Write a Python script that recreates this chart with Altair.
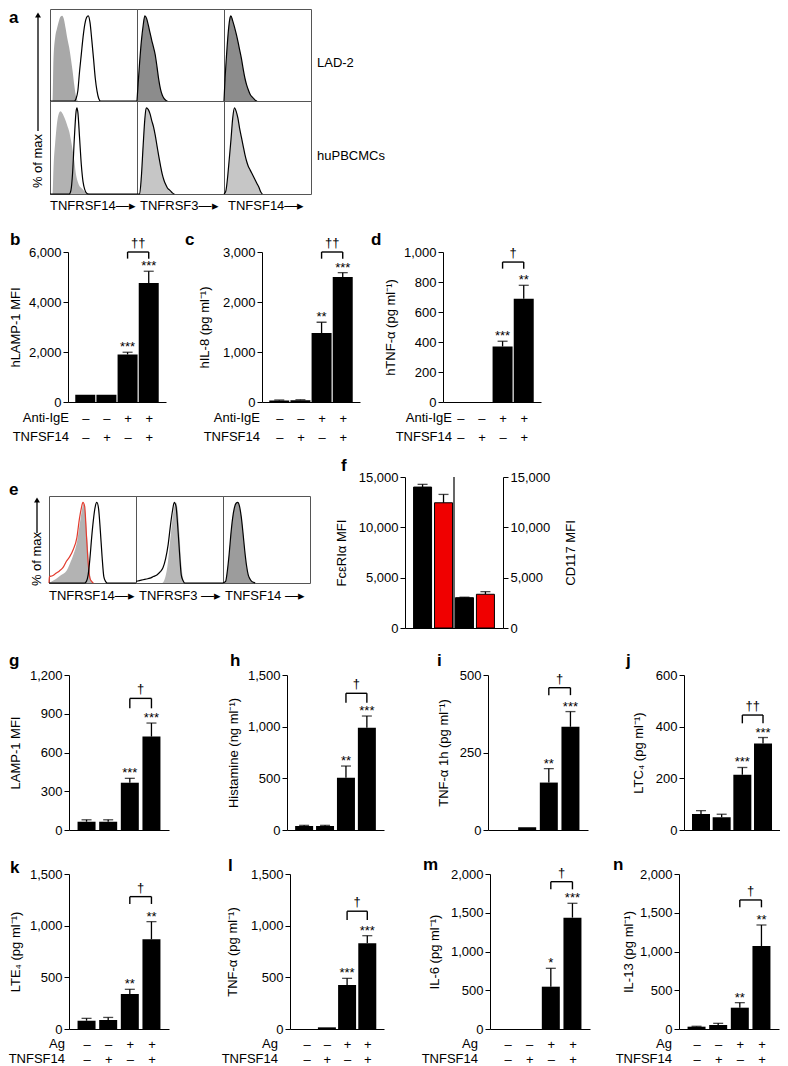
import altair as alt
import pandas as pd

FONT = "Liberation Sans"

# ---------------- condition rows (x-axis labels) ----------------
COND_TOP = ["–", "–", "+", "+"]
COND_BOT = ["–", "+", "–", "+"]

# ---------------- panel a: flow histograms (x: relative fluorescence 0-100, y: % of max) ----------------
a11_gray = ([0, 3, 4, 6, 8, 10, 12, 14, 16, 18, 20, 22, 24, 26, 28, 30, 32],
            [0, 0, 50, 75, 85, 93, 99, 100, 96, 85, 73, 63, 50, 35, 18, 5, 0])
a11_line = ([0, 28, 30, 32, 34, 36, 38, 40, 42, 44, 46, 48, 50, 52, 54, 56, 58, 100],
            [0, 0, 3, 12, 35, 55, 75, 90, 98, 100, 92, 72, 50, 27, 12, 3, 0, 0])
a12_gray = ([0, 1, 3, 5, 7, 9, 11, 13, 15, 17, 19, 21, 23, 25, 27, 29, 31, 33, 35],
            [0, 16, 45, 70, 88, 100, 97, 89, 80, 71, 63, 54, 40, 25, 14, 7, 3, 1, 0])
a13_gray = ([0, 1, 3, 5, 7, 8, 10, 12, 14, 16, 18, 20, 22, 24, 26, 28, 30, 32, 34, 36, 38],
            [0, 22, 55, 82, 98, 100, 94, 87, 79, 70, 60, 50, 38, 27, 19, 13, 8, 5, 3, 1, 0])
a21_gray = ([0, 3, 4, 6, 8, 10, 12, 14, 16, 18, 20, 22, 24, 26, 28, 30, 32, 34, 36, 38, 40, 42, 44, 46],
            [0, 0, 30, 60, 82, 93, 96, 94, 90, 85, 79, 73, 63, 51, 38, 22, 14, 9, 7, 5, 3, 2, 1, 0])
a21_line = ([0, 22, 24, 26, 28, 30, 31, 32, 34, 36, 38, 40, 42, 44, 100],
            [0, 0, 4, 25, 65, 96, 100, 95, 65, 34, 14, 5, 1, 0, 0])
a22_gray = ([0, 3, 5, 7, 9, 10.6, 13, 15, 17, 19, 21, 23, 25, 27, 29, 31, 33, 35, 37, 39, 41, 43],
            [0, 0, 20, 55, 87, 100, 98, 93, 85, 78, 68, 56, 44, 33, 23, 16, 11, 7, 5, 3, 1, 0])
a23_gray = ([0, 2, 4, 6, 8, 10, 12, 14, 16, 18, 20, 22, 24, 26, 28, 30, 32, 34, 36, 38, 40, 42, 44],
            [0, 3, 18, 40, 63, 88, 100, 96, 88, 76, 66, 56, 46, 38, 32, 28, 24, 20, 16, 12, 8, 3, 0])

# ---------------- panel e: flow histograms ----------------
e1_red = ([0, 0.5, 4, 8, 12, 16, 20, 24, 28, 32, 35, 37, 39, 41, 43, 45, 47, 49, 51],
          [0, 8, 9, 12, 15, 19, 27, 33, 42, 56, 80, 92, 100, 95, 60, 25, 6, 2, 0])
e1_gray = ([0, 3, 8, 14, 20, 24, 28, 32, 36, 39, 40, 42, 44, 46, 48, 50],
           [0, 2, 5, 10, 15, 24, 35, 50, 78, 96, 98, 85, 55, 25, 5, 0])
e1_black = ([0, 41, 43, 45, 47, 49, 51, 53, 55, 57, 59, 61, 63, 65, 67, 100],
            [0, 0, 2, 10, 30, 56, 78, 94, 100, 92, 65, 33, 8, 2, 0, 0])
e2_black = ([0, 4, 8, 12, 16, 20, 24, 28, 31, 34, 37, 40, 42, 44, 46, 48, 50, 52, 54, 56, 100],
            [2, 3, 4, 5, 6, 8, 10, 14, 19, 30, 48, 75, 90, 100, 95, 70, 38, 10, 3, 0, 0])
e2_gray = ([0, 30, 33, 36, 39, 42, 44, 46, 48, 50, 52, 54, 56],
           [0, 0, 5, 20, 50, 80, 95, 100, 90, 60, 25, 6, 0])
e3_gray = ([0, 3, 5, 7, 9, 11, 13, 15, 17, 19, 21, 23, 25, 27, 29, 31, 33, 35, 37],
           [0, 2, 15, 35, 60, 80, 93, 99, 100, 95, 82, 62, 40, 22, 10, 5, 2, 1, 0])

# ---------------- bar panels: means, SEM, significance ----------------
b_vals = [290, 290, 1900, 4760]; b_err = [0, 0, 90, 470]; b_stars = ["", "", "***", "***"]
c_vals = [30, 35, 1380, 2500];   c_err = [10, 10, 215, 87]; c_stars = ["", "", "**", "***"]
d_vals = [0, 0, 370, 688];       d_err = [0, 0, 35, 90];    d_stars = ["", "", "***", "**"]

f_groups = ["Control", "TNFSF14"]
f_colors = ["#000000", "#f00000"]
f_fce_vals = [14000, 12440]; f_fce_err = [270, 830]
f_cd117_vals = [3010, 3350]; f_cd117_err = [50, 260]

g_vals = [64, 64, 366, 723];     g_err = [15, 15, 34, 105];  g_stars = ["", "", "***", "***"]
h_vals = [39, 39, 506, 990];     h_err = [6, 6, 113, 113];   h_stars = ["", "", "**", "***"]
i_vals = [0, 9, 153, 333];       i_err = [0, 0, 45, 49];     i_stars = ["", "", "**", "***"]
j_vals = [62, 49, 214, 335];     j_err = [13, 12, 28, 23];   j_stars = ["", "", "***", "***"]
k_vals = [80, 87, 339, 868];     k_err = [23, 25, 45, 171];  k_stars = ["", "", "**", "**"]
l_vals = [0, 16, 426, 829];      l_err = [0, 0, 64, 74];     l_stars = ["", "", "***", "***"]
m_vals = [0, 0, 546, 1437];      m_err = [0, 0, 237, 185];   m_stars = ["", "", "*", "***"]
n_vals = [30, 52, 275, 1071];    n_err = [5, 21, 65, 271];   n_stars = ["", "", "**", "**"]

# bracket (top, bottom of legs) and dagger label for bars 3 vs 4
b_br = (6000, 5735, "††"); c_br = (3000, 2866, "††"); d_br = (933, 889, "†")
g_br = (1019, 942, "†");   h_br = (1323, 1232, "†");  i_br = (459, 435, "†"); j_br = (445, 413, "††")
k_br = (1281, 1210, "†");  l_br = (1140, 1056, "†");  m_br = (1901, 1802, "†"); n_br = (1665, 1570, "†")

NUMFMT = ",.0f"


# ---------------- helpers ----------------
def spacer(w, h):
    return alt.Chart(pd.DataFrame({"s": [0]})).mark_point(opacity=0, size=1).encode(
        x=alt.value(w / 2), y=alt.value(h / 2)).properties(width=w, height=h)


def txt(s, x, y, size=13, weight="normal", align="left", baseline="middle", angle=0, color="black"):
    kw = dict(align=align, baseline=baseline, fontSize=size, fontWeight=weight, color=color, font=FONT)
    if angle:
        kw["angle"] = angle
    return alt.Chart(pd.DataFrame({"t": [s]})).mark_text(**kw).encode(
        x=alt.value(x), y=alt.value(y), text="t:N")


def up_arrow(x, y_tip, y_end):
    df = pd.DataFrame({"k": [0]})
    shaft = alt.Chart(df).mark_rule(color="black", strokeWidth=1.3).encode(
        x=alt.value(x), y=alt.value(y_tip + 5), y2=alt.value(y_end))
    head = alt.Chart(df).mark_point(shape="triangle-up", filled=True, color="black", size=35, opacity=1).encode(
        x=alt.value(x), y=alt.value(y_tip + 4))
    return [shaft, head]


HX = alt.Scale(domain=[0, 100], nice=False, zero=False)
HY = alt.Scale(domain=[0, 108], nice=False)


def hist_cell(fills, lines, w, h, extras=()):
    layers = []
    for (xv, yv), col in fills:
        df = pd.DataFrame({"x": xv, "y": yv})
        layers.append(alt.Chart(df).mark_area(color=col, opacity=1, interpolate="monotone").encode(
            x=alt.X("x:Q", scale=HX, axis=None), y=alt.Y("y:Q", scale=HY, axis=None)))
    for (xv, yv), col in lines:
        df = pd.DataFrame({"x": xv, "y": yv})
        layers.append(alt.Chart(df).mark_line(color=col, strokeWidth=1.2, interpolate="monotone").encode(
            x=alt.X("x:Q", scale=HX, axis=None), y=alt.Y("y:Q", scale=HY, axis=None)))
    layers.extend(extras)
    return alt.layer(*layers).properties(width=w, height=h,
                                         view=alt.ViewBackground(stroke="#555", strokeWidth=1))


def bar_panel(vals, errs, stars, ytitle, yticks, ymax, W, H, title_x, letter, lx, ly, br,
              bar_size=19, rows=None, row_x=0, row_gap=19, first_off=16):
    n = len(vals)
    idx = list(range(n))
    df = pd.DataFrame({"i": idx, "v": vals, "e": errs,
                       "top": [v + e for v, e in zip(vals, errs)], "s": stars})
    xsc = alt.Scale(domain=[-0.58, n - 1 + 0.58], nice=False, zero=False)
    ysc = alt.Scale(domain=[0, ymax], nice=False, zero=True)
    if rows:
        expr = "[" + ",".join("['%s','%s']" % (a, b) for a, b in zip(COND_TOP, COND_BOT)) + "][datum.value]"
        xaxis = alt.Axis(values=idx, labelExpr=expr, ticks=False, tickSize=0, title=None, grid=False,
                         labelPadding=first_off - 6, labelLineHeight=row_gap, labelBaseline="top",
                         labelFlush=False, labelOverlap=False, labelAngle=0, labelFontSize=13)
    else:
        xaxis = alt.Axis(values=idx, labels=False, ticks=False, tickSize=0, title=None, grid=False)
    yaxis = alt.Axis(values=yticks, format=NUMFMT, title=ytitle, titleX=title_x, titleY=H / 2, titleAngle=270,
                     titleAlign="center", titleBaseline="middle", tickSize=5, labelPadding=2, grid=False)

    def X(f):
        return alt.X(f + ":Q", scale=xsc, axis=xaxis)

    def Y(f):
        return alt.Y(f + ":Q", scale=ysc, axis=yaxis, title=ytitle)

    base = alt.Chart(df)
    bars = base.mark_bar(size=bar_size, color="black", orient="vertical").encode(x=X("i"), y=Y("v"))
    eb = base.transform_filter("datum.e > 0").mark_rule(color="black", strokeWidth=1.3).encode(
        x=X("i"), y=Y("v"), y2="top:Q")
    caps = base.transform_filter("datum.e > 0").mark_tick(orient="horizontal", size=10, thickness=1.3,
                                                          color="black").encode(x=X("i"), y=Y("top"))
    st = base.mark_text(baseline="alphabetic", dy=-1, fontSize=13, color="black").encode(
        x=X("i"), y=Y("top"), text="s:N")
    btop, bbot, dag = br
    bdf = pd.DataFrame({"x1": [2], "x2": [3], "xm": [2.5], "yt": [btop], "yb": [bbot], "d": [dag]})
    bc = alt.Chart(bdf)
    hl = bc.mark_rule(color="black", strokeWidth=1.4).encode(x=X("x1"), x2="x2:Q", y=Y("yt"))
    vl = bc.mark_rule(color="black", strokeWidth=1.4).encode(x=X("x1"), y=Y("yt"), y2="yb:Q")
    vr = bc.mark_rule(color="black", strokeWidth=1.4).encode(x=X("x2"), y=Y("yt"), y2="yb:Q")
    dg = bc.mark_text(baseline="alphabetic", dy=-5, fontSize=13, color="black").encode(
        x=X("xm"), y=Y("yt"), text="d:N")
    layers = [bars, eb, caps, st, hl, vl, vr, dg, txt(letter, lx, ly, size=17, weight="bold")]
    if rows:
        layers.append(txt(rows[0], row_x, H + first_off, align="right"))
        layers.append(txt(rows[1], row_x, H + first_off + row_gap, align="right"))
    return alt.layer(*layers).properties(width=W, height=H)


def row(*items):
    return alt.hconcat(*items, spacing=0, bounds="flush")


# ---------------- panel a ----------------
GR_A = "#a8a8a8"; GR_D = "#8c8c8c"; GR_L = "#b2b2b2"; GR_LL = "#c6c6c6"
A11 = hist_cell([(a11_gray, GR_A)], [(a11_line, "black")], 87, 92,
                [txt("a", -41, 9, size=17, weight="bold")] + up_arrow(-12, 2, 122))
A12 = hist_cell([(a12_gray, GR_D)], [(a12_gray, "black")], 87, 92)
A13 = hist_cell([(a13_gray, GR_D)], [(a13_gray, "black")], 87, 92, [txt("LAD-2", 93, 54)])
A21 = hist_cell([(a21_gray, GR_L)], [(a21_line, "black")], 87, 93,
                [txt("% of max", -12, 60, angle=270, align="center"), txt("TNFRSF14—▸", 0, 105)])
A22 = hist_cell([(a22_gray, GR_LL)], [(a22_gray, "black")], 87, 93, [txt("TNFRSF3—▸", 3, 105)])
A23 = hist_cell([(a23_gray, GR_LL)], [(a23_gray, "black")], 87, 93,
                [txt("TNFSF14—▸", 4, 105), txt("huPBCMCs", 93, 55)])

rowA1 = row(spacer(42, 1), A11, A12, A13)
rowA2 = row(spacer(42, 1), A21, A22, A23)

# ---------------- panels b, c, d ----------------
ROWS_IGE = ("Anti-IgE", "TNFSF14")
pb = bar_panel(b_vals, b_err, b_stars, "hLAMP-1 MFI", [0, 2000, 4000, 6000], 6000, 98, 150, -53,
               "b", -58, -12, b_br, bar_size=20, rows=ROWS_IGE, row_x=1)
pc = bar_panel(c_vals, c_err, c_stars, "hIL-8 (pg ml⁻¹)", [0, 1000, 2000, 3000], 3000, 98, 150, -58,
               "c", -77, -12, c_br, bar_size=20, rows=ROWS_IGE, row_x=-2)
pd_ = bar_panel(d_vals, d_err, d_stars, "hTNF-α (pg ml⁻¹)", [0, 200, 400, 600, 800, 1000], 1000, 98, 150, -53,
                "d", -72, -12, d_br, bar_size=20, rows=ROWS_IGE, row_x=9)
rowB = row(spacer(60, 1), pb, spacer(96, 1), pc, spacer(83, 1), pd_)

# ---------------- panel e ----------------
E1 = hist_cell([(e1_gray, "#b3b3b3")], [(e1_red, "#e33b2e"), (e1_black, "black")], 87, 87,
               [txt("e", -40, -6, size=17, weight="bold"),
                txt("% of max", -12, 63, angle=270, align="center"),
                txt("TNFRSF14—▸", 0, 100)] + up_arrow(-12, 0, 37))
E2 = hist_cell([(e2_gray, "#b8b8b8")], [(e2_black, "black")], 87, 87, [txt("TNFRSF3 —▸", 3, 100)])
E3 = hist_cell([(e3_gray, "#9c9c9c")], [(e3_gray, "black")], 87, 87, [txt("TNFSF14 —▸", 2, 100)])
rowE = row(spacer(41, 1), E1, E2, E3)

# ---------------- panel f ----------------
FW, FH = 98, 151
fx = alt.Scale(domain=[-0.6, 3.6], nice=False, zero=False)
fy = alt.Scale(domain=[0, 15000], nice=False)
fxa = alt.Axis(values=[0, 1, 2, 3], labels=False, ticks=False, tickSize=0, title=None, grid=False)
fcol = alt.Color("g:N", scale=alt.Scale(domain=f_groups, range=f_colors), legend=None)
fl_df = pd.DataFrame({"i": [0, 1], "g": f_groups, "v": f_fce_vals, "e": f_fce_err,
                      "top": [v + e for v, e in zip(f_fce_vals, f_fce_err)]})
fr_df = pd.DataFrame({"i": [2, 3], "g": f_groups, "v": f_cd117_vals, "e": f_cd117_err,
                      "top": [v + e for v, e in zip(f_cd117_vals, f_cd117_err)]})
ly_axis = alt.Axis(values=[0, 5000, 10000, 15000], format=NUMFMT, title="FcεRIα MFI", titleX=-64, titleY=FH / 2,
                   titleAngle=270, titleAlign="center", titleBaseline="middle", tickSize=5, labelPadding=2)
ry_axis = alt.Axis(values=[0, 5000, 10000, 15000], format=NUMFMT, title="CD117 MFI", orient="right", titleX=67,
                   titleY=FH / 2, titleAngle=270, titleAlign="center", titleBaseline="middle", tickSize=5,
                   labelPadding=2)


def f_layers(df, yaxis, title):
    Yv = alt.Y("v:Q", scale=fy, axis=yaxis, title=title)
    Yt = alt.Y("top:Q", scale=fy, axis=yaxis, title=title)
    Xi = alt.X("i:Q", scale=fx, axis=fxa)
    bars = alt.Chart(df).mark_bar(size=18, stroke="black", strokeWidth=1, orient="vertical").encode(
        x=Xi, y=Yv, color=fcol)
    eb = alt.Chart(df).mark_rule(color="black", strokeWidth=1.3).encode(x=Xi, y=Yv, y2="top:Q")
    caps = alt.Chart(df).mark_tick(orient="horizontal", size=10, thickness=1.3, color="black").encode(x=Xi, y=Yt)
    return [bars, eb, caps]


div_df = pd.DataFrame({"xd": [1.5], "y0": [0], "y1": [15000]})
divider = alt.Chart(div_df).mark_rule(color="black", strokeWidth=1.2).encode(
    x=alt.X("xd:Q", scale=fx, axis=fxa),
    y=alt.Y("y0:Q", scale=fy, axis=ly_axis, title="FcεRIα MFI"), y2="y1:Q")
f_left = alt.layer(*f_layers(fl_df, ly_axis, "FcεRIα MFI"), divider, txt("f", -64, -11, size=17, weight="bold"))
f_right = alt.layer(*f_layers(fr_df, ry_axis, "CD117 MFI"))
pf = alt.layer(f_left, f_right).resolve_scale(y="independent").properties(width=FW, height=FH)

rowF = row(spacer(397, 1), pf)

# ---------------- panels g-j ----------------
pg = bar_panel(g_vals, g_err, g_stars, "LAMP-1 MFI", [0, 300, 600, 900, 1200], 1200, 100, 155, -54,
               "g", -60, -14, g_br, bar_size=18)
ph = bar_panel(h_vals, h_err, h_stars, "Histamine (ng ml⁻¹)", [0, 500, 1000, 1500], 1500, 97, 155, -54,
               "h", -57, -14, h_br, bar_size=18)
pi = bar_panel(i_vals, i_err, i_stars, "TNF-α 1h (pg ml⁻¹)", [0, 250, 500], 500, 100, 155, -45,
               "i", -51, -14, i_br, bar_size=18)
pj = bar_panel(j_vals, j_err, j_stars, "LTC₄ (pg ml⁻¹)", [0, 200, 400, 600], 600, 96, 155, -46,
               "j", -58, -14, j_br, bar_size=18)
rowG = row(spacer(61, 1), pg, spacer(118, 1), ph, spacer(104, 1), pi, spacer(96, 1), pj)

# ---------------- panels k-n ----------------
ROWS_AG = ("Ag", "TNFSF14")
KOPT = dict(bar_size=18, rows=ROWS_AG, row_gap=15, first_off=15)
pk = bar_panel(k_vals, k_err, k_stars, "LTE₄ (pg ml⁻¹)", [0, 500, 1000, 1500], 1500, 100, 155, -54,
               "k", -59, -6, k_br, row_x=-4, **KOPT)
pl = bar_panel(l_vals, l_err, l_stars, "TNF-α (pg ml⁻¹)", [0, 500, 1000, 1500], 1500, 94, 155, -58,
               "l", -62, -8, l_br, row_x=-12, **KOPT)
pm = bar_panel(m_vals, m_err, m_stars, "IL-6 (pg ml⁻¹)", [0, 500, 1000, 1500, 2000], 2000, 100, 155, -56,
               "m", -67, -9, m_br, row_x=-12, **KOPT)
pn = bar_panel(n_vals, n_err, n_stars, "IL-13 (pg ml⁻¹)", [0, 500, 1000, 1500, 2000], 2000, 100, 155, -51,
               "n", -66, -9, n_br, row_x=-7, **KOPT)
rowK = row(spacer(61, 1), pk, spacer(121, 1), pl, spacer(106, 1), pm, spacer(89, 1), pn)

# rows are nested groups (counted as zero height in a flush layout); spacers set each row's top offset
chart = alt.vconcat(rowA1, spacer(1, 92), rowA2, spacer(1, 151), rowB, spacer(1, 225), rowF,
                    spacer(1, 19), rowE, spacer(1, 179), rowG, spacer(1, 199), rowK,
                    spacing=0, bounds="flush").properties(
    padding=0
).configure(font=FONT).configure_view(stroke=None).configure_axis(
    labelFont=FONT, titleFont=FONT, labelFontSize=13, titleFontSize=13, titleFontWeight="normal",
    labelColor="black", titleColor="black", domainColor="black", tickColor="black", grid=False,
    domainWidth=1, tickWidth=1
)

chart.save("out.html", embed_options={"renderer": "svg", "actions": False})
